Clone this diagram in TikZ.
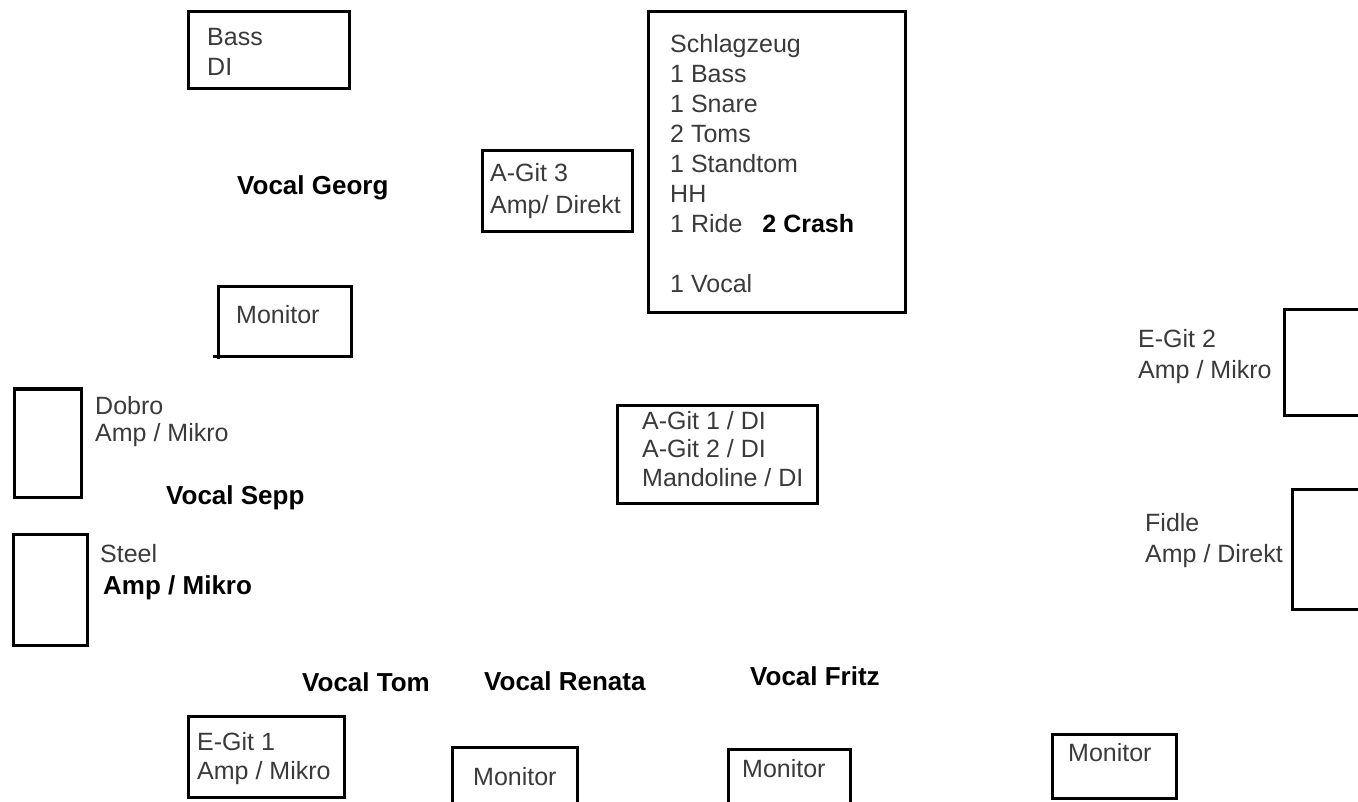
\documentclass[tikz,border=0pt]{standalone}
\usepackage{fontspec}
\setmainfont{Liberation Sans}
\definecolor{inkGray}{RGB}{58,58,58}
\tikzset{
  stagebox/.style={draw=black,line width=3pt},
  lbl/.style={anchor=base west,inner sep=0pt,align=left,text=inkGray,font=\fontsize{25}{30}\selectfont},
  voc/.style={anchor=base west,inner sep=0pt,text=black,font=\bfseries\fontsize{26}{30}\selectfont}
}
\begin{document}
\begin{tikzpicture}[x=1pt,y=-1pt]
\useasboundingbox (0,0) rectangle (1358,802);
\clip (0,0) rectangle (1358,802);
% boxes
\draw[stagebox] (188,12) rectangle (349,89);
\draw[stagebox] (482,151) rectangle (632,232);
\draw[stagebox] (648,12) rectangle (905,313);
\draw[stagebox] (213,357) -- (351,357) -- (351,287) -- (218,287) -- (218,359);
\draw[stagebox] (14,389) rectangle (81,497);
\draw[stagebox] (13,534) rectangle (87,645);
\draw[stagebox] (1284,310) rectangle (1375,415);
\draw[stagebox] (1292,489) rectangle (1375,609);
\draw[stagebox] (617,405) rectangle (817,503);
\draw[stagebox] (188,716) rectangle (344,797);
\draw[stagebox] (452,747) rectangle (577,820);
\draw[stagebox] (728,749) rectangle (850,820);
\draw[stagebox] (1052,734) rectangle (1176,798);
% labels (base = last line)
\node[lbl] (bassDI) at (207,76) {Bass\\DI};
\node[lbl,font=\fontsize{25}{32}\selectfont] (agit3) at (490,214) {A-Git 3\\Amp/ Direkt};
\node[lbl] (drums) at (670,293) {Schlagzeug\\1 Bass\\1 Snare\\2 Toms\\1 Standtom\\HH\\1 Ride\hspace{20pt}\textcolor{black}{\bfseries 2 Crash}\\[30pt]1 Vocal};
\node[lbl] (monTop) at (236,324) {Monitor};
\node[lbl,font=\fontsize{25}{27}\selectfont] (dobro) at (95,441) {Dobro\\Amp / Mikro};
\node[lbl] (steel) at (100,562) {Steel};
\node[voc] (steelAmp) at (103,594) {Amp / Mikro};
\node[lbl,font=\fontsize{25}{32}\selectfont] (egit2) at (1138,379) {E-Git 2\\Amp / Mikro};
\node[lbl,font=\fontsize{25}{31}\selectfont] (fidle) at (1145,562) {Fidle\\Amp / Direkt};
\node[lbl,font=\fontsize{25}{28.5}\selectfont] (agit12) at (642,486) {A-Git 1 / DI\\A-Git 2 / DI\\Mandoline / DI};
\node[lbl,font=\fontsize{25}{29}\selectfont] (egit1) at (197,779) {E-Git 1\\Amp / Mikro};
\node[lbl] (monA) at (473,785) {Monitor};
\node[lbl] (monB) at (742,777) {Monitor};
\node[lbl] (monC) at (1068,761) {Monitor};
% vocals
\node[voc] (vGeorg) at (237,195) {Vocal Georg};
\node[voc] (vSepp) at (166,504) {Vocal Sepp};
\node[voc] (vTom) at (302,691) {Vocal Tom};
\node[voc] (vRenata) at (484,690) {Vocal Renata};
\node[voc] (vFritz) at (750,685) {Vocal Fritz};
\end{tikzpicture}
\end{document}
